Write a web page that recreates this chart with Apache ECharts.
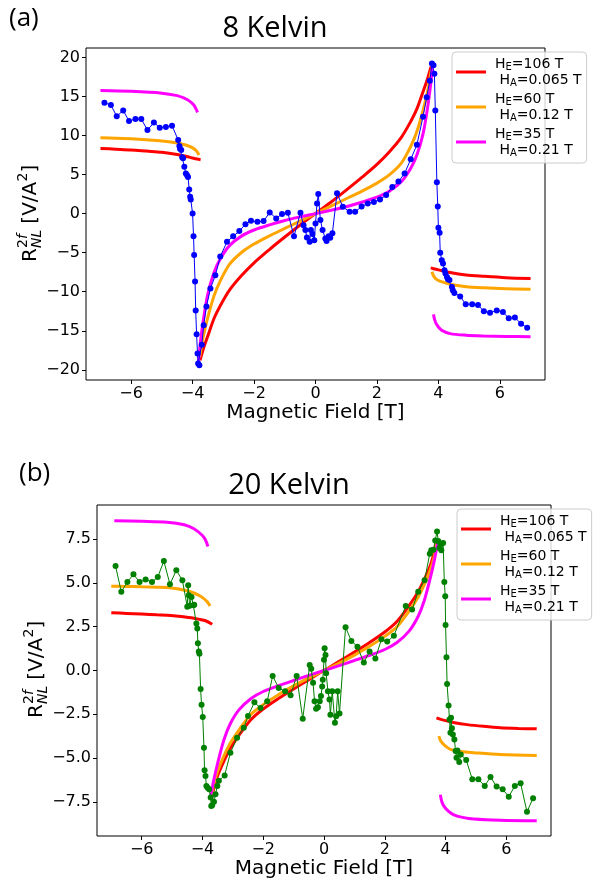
<!DOCTYPE html>
<html>
<head>
<meta charset="utf-8">
<script src="https://cdn.jsdelivr.net/npm/echarts@6/dist/echarts.min.js"></script>
<style>
  html, body { margin: 0; padding: 0; background: #fff; }
  #chart { width: 601px; height: 881px; }
</style>
</head>
<body>
<div id="chart"></div>
<script>
// ---- tick positions ----
const xTicks = [-6, -4, -2, 0, 2, 4, 6];
const yTicks8K = [-20, -15, -10, -5, 0, 5, 10, 15, 20];
const yTicks20K = [-7.5, -5, -2.5, 0, 2.5, 5, 7.5];

// ---- measured second-harmonic nonlocal signal, 8 K ----
const data8K = [
  [-6.87,14.2],[-6.66,13.9],[-6.47,12.46],[-6.26,13.2],[-6.07,11.86],[-5.86,12.1],[-5.67,12.1],
  [-5.47,10.7],[-5.26,11.65],[-5.07,11.0],[-4.87,11.1],[-4.67,11.26],[-4.47,9.42],[-4.43,8.65],
  [-4.41,8.3],[-4.37,8.14],[-4.34,7.2],[-4.31,7.1],[-4.27,6.0],[-4.22,5.15],[-4.18,4.9],[-4.15,4.7],
  [-4.11,3.1],[-4.08,2.15],[-4.06,1.8],[-4.0,0.0],[-3.97,-2.9],[-3.95,-5.3],[-3.92,-8.7],[-3.9,-12.4],
  [-3.87,-15.45],[-3.84,-17.9],[-3.82,-19.2],[-3.78,-19.4],[-3.7,-16.8],[-3.64,-14.3],[-3.55,-11.9],
  [-3.42,-9.6],[-3.26,-7.9],[-3.1,-5.5],[-2.88,-3.6],[-2.68,-2.9],[-2.48,-2.24],[-2.28,-1.35],
  [-2.1,-0.92],[-1.89,-1.05],[-1.69,-0.96],[-1.49,0.15],[-1.28,-0.62],[-1.09,-0.06],[-0.9,0.1],
  [-0.7,-2.9],[-0.49,0.1],[-0.39,-1.5],[-0.33,-2.1],[-0.28,-3.05],[-0.19,-3.6],[-0.15,-2.1],
  [-0.1,-2.6],[-0.04,-3.4],[0.0,-1.26],[0.05,1.3],[0.09,2.5],[0.16,-0.83],[0.23,-2.1],[0.32,-3.2],
  [0.36,-3.5],[0.43,-2.9],[0.48,-3.1],[0.55,-2.5],[0.7,2.6],[0.89,0.87],[1.11,0.23],[1.29,0.23],
  [1.5,0.9],[1.7,1.3],[1.9,1.5],[2.1,1.8],[2.3,2.37],[2.5,3.4],[2.7,4.1],[2.9,5.15],[3.1,6.95],
  [3.3,8.8],[3.5,12.4],[3.62,14.9],[3.72,17.0],[3.79,19.2],[3.84,19.0],[3.87,17.9],[3.9,13.2],
  [3.95,4.0],[3.98,0.9],[4.0,-1.8],[4.04,-2.45],[4.06,-5.0],[4.11,-5.97],[4.15,-6.4],[4.2,-7.25],
  [4.23,-7.67],[4.28,-8.1],[4.31,-8.4],[4.36,-8.5],[4.44,-9.4],[4.47,-9.8],[4.52,-10.15],[4.71,-10.6],
  [4.89,-11.6],[5.1,-11.6],[5.29,-11.7],[5.48,-12.5],[5.68,-12.7],[5.9,-12.4],[6.1,-12.6],
  [6.29,-13.4],[6.49,-13.3],[6.69,-14.1],[6.89,-14.6]
];

// ---- model curves, 8 K (below spin-flop, canted region, above spin-flop) ----
const redLow8K = [[-7.0,8.35],[-6.5,8.25],[-6.0,8.15],[-5.5,8.0],[-5.0,7.85],[-4.5,7.57],[-4.2,7.32],[-4.0,7.12],[-3.85,6.98],[-3.74,6.9]];
const redMid8K = [[-3.76,-18.8],[-3.65,-17.3],[-3.5,-15.6],[-3.3,-13.4],[-3.1,-11.8],[-2.8,-9.8],[-2.4,-7.9],[-2.0,-6.3],[-1.5,-4.6],[-1.0,-3.0],[-0.5,-1.45],[0.0,0.0],[0.5,1.45],[1.0,3.0],[1.5,4.6],[2.0,6.3],[2.4,7.9],[2.8,9.8],[3.1,11.8],[3.3,13.4],[3.5,15.6],[3.65,17.3],[3.76,18.8]];
const redHigh8K = [[3.75,-6.95],[3.85,-7.05],[4.0,-7.2],[4.38,-7.54],[4.9,-7.85],[5.47,-8.02],[6.2,-8.2],[7.0,-8.31]];

const orangeLow8K = [[-7.0,9.72],[-6.5,9.65],[-6.0,9.57],[-5.5,9.45],[-5.0,9.3],[-4.5,9.05],[-4.2,8.75],[-4.0,8.42],[-3.88,8.05],[-3.79,7.5]];
const orangeMid8K = [[-3.77,-18.4],[-3.65,-15.7],[-3.5,-13.2],[-3.3,-10.5],[-3.1,-8.6],[-2.8,-6.5],[-2.4,-4.95],[-2.0,-3.9],[-1.5,-2.85],[-1.0,-1.9],[-0.5,-0.95],[0.0,0.0],[0.5,0.95],[1.0,1.9],[1.5,2.85],[2.0,3.9],[2.4,4.95],[2.8,6.5],[3.1,8.6],[3.3,10.5],[3.5,13.2],[3.65,15.7],[3.77,18.4]];
const orangeHigh8K = [[3.79,-7.45],[3.84,-7.95],[3.92,-8.35],[4.05,-8.65],[4.38,-9.04],[4.9,-9.35],[5.47,-9.5],[6.2,-9.62],[7.0,-9.68]];

const magentaLow8K = [[-7.0,15.75],[-6.0,15.65],[-5.0,15.42],[-4.5,15.1],[-4.29,14.8],[-4.1,14.4],[-3.96,13.9],[-3.89,13.4],[-3.84,12.97]];
const magentaMid8K = [[-3.81,-19.0],[-3.75,-16.6],[-3.65,-13.6],[-3.5,-10.2],[-3.3,-7.5],[-3.1,-5.8],[-2.8,-4.1],[-2.4,-2.85],[-2.0,-2.1],[-1.5,-1.45],[-1.0,-0.88],[-0.5,-0.42],[0.0,0.0],[0.5,0.42],[1.0,0.88],[1.5,1.45],[2.0,2.1],[2.4,2.85],[2.8,4.1],[3.1,5.8],[3.3,7.5],[3.5,10.2],[3.65,13.6],[3.75,16.6],[3.81,19.0]];
const magentaHigh8K = [[3.84,-12.9],[3.88,-13.6],[3.93,-14.1],[4.02,-14.6],[4.11,-14.94],[4.38,-15.36],[4.9,-15.57],[5.47,-15.66],[6.2,-15.72],[7.0,-15.75]];

// ---- measured second-harmonic nonlocal signal, 20 K ----
const data20K = [
  [-6.86,5.97],[-6.67,4.49],[-6.47,5.06],[-6.27,5.49],[-6.07,5.06],[-5.87,5.19],[-5.66,5.06],
  [-5.47,5.34],[-5.27,6.25],[-5.07,4.93],[-4.86,5.72],[-4.66,5.15],[-4.5,3.64],[-4.47,4.87],
  [-4.45,4.3],[-4.42,3.7],[-4.36,4.2],[-4.3,3.73],[-4.27,3.75],[-4.2,2.69],[-4.17,2.4],[-4.15,1.56],
  [-4.12,1.08],[-4.1,0.95],[-4.06,-1.06],[-4.03,-1.95],[-3.99,-2.65],[-3.95,-4.41],[-3.93,-5.7],
  [-3.9,-6.02],[-3.87,-6.59],[-3.83,-6.7],[-3.78,-6.78],[-3.73,-7.25],[-3.71,-7.73],[-3.68,-7.7],
  [-3.62,-7.5],[-3.57,-7.06],[-3.51,-6.6],[-3.46,-6.3],[-3.27,-5.99],[-3.08,-4.7],[-2.86,-3.84],
  [-2.64,-3.27],[-2.5,-2.6],[-2.29,-1.82],[-2.09,-2.14],[-1.87,-1.76],[-1.69,-0.32],[-1.49,-1.0],
  [-1.28,-1.19],[-1.1,-1.41],[-0.9,-0.32],[-0.7,-2.75],[-0.47,0.32],[-0.42,0.1],[-0.36,-0.7],
  [-0.31,-1.76],[-0.26,-2.19],[-0.2,-2.1],[-0.14,-1.76],[-0.1,-1.45],[-0.06,-0.91],[-0.04,-0.53],
  [0.0,0.61],[0.02,1.27],[0.05,0.89],[0.07,-0.15],[0.13,-1.19],[0.18,-1.66],[0.21,-2.52],
  [0.27,-1.19],[0.36,-2.99],[0.4,-2.61],[0.45,-1.19],[0.51,-2.46],[0.71,2.47],[0.9,1.69],
  [1.1,1.36],[1.31,0.45],[1.5,1.08],[1.69,0.68],[1.89,1.78],[2.08,1.65],[2.3,1.99],[2.69,3.68],
  [2.9,3.49],[3.1,4.49],[3.31,5.15],[3.48,6.67],[3.53,6.86],[3.6,6.9],[3.66,7.43],[3.72,7.94],
  [3.76,7.4],[3.8,7.0],[3.83,7.24],[3.86,6.86],[3.92,7.28],[3.96,5.06],[3.99,4.24],[4.0,2.6],
  [4.03,0.76],[4.05,-0.77],[4.1,-2.0],[4.13,-2.8],[4.16,-3.56],[4.18,-2.7],[4.21,-3.3],[4.24,-3.65],
  [4.29,-3.94],[4.33,-4.6],[4.36,-4.98],[4.39,-4.57],[4.45,-5.23],[4.5,-4.79],[4.68,-5.11],
  [4.88,-6.21],[5.08,-6.21],[5.29,-6.59],[5.48,-6.08],[5.68,-6.63],[5.88,-6.78],[6.08,-7.21],
  [6.28,-6.59],[6.47,-6.44],[6.68,-8.07],[6.88,-7.29]
];

// ---- model curves, 20 K ----
const redLow20K = [[-7.0,3.3],[-6.5,3.26],[-6.0,3.22],[-5.5,3.18],[-5.16,3.16],[-4.7,3.08],[-4.28,2.98],[-3.9,2.84],[-3.68,2.64]];
const redMid20K = [[-3.7,-7.3],[-3.62,-6.7],[-3.5,-6.0],[-3.3,-5.2],[-3.1,-4.5],[-2.8,-3.7],[-2.4,-2.8],[-2.0,-2.2],[-1.5,-1.6],[-1.0,-1.05],[-0.5,-0.52],[0.0,0.0],[0.5,0.52],[1.0,1.05],[1.5,1.6],[2.0,2.2],[2.4,2.8],[2.8,3.7],[3.1,4.5],[3.3,5.2],[3.5,6.0],[3.62,6.7],[3.7,7.3]];
const redHigh20K = [[3.7,-2.7],[3.9,-2.82],[4.3,-2.98],[4.71,-3.09],[5.25,-3.19],[5.8,-3.27],[6.4,-3.31],[7.0,-3.33]];

const orangeLow20K = [[-7.0,4.81],[-6.5,4.8],[-6.0,4.78],[-5.5,4.76],[-5.16,4.74],[-4.5,4.55],[-4.06,4.24],[-3.84,3.92],[-3.75,3.68]];
const orangeMid20K = [[-3.72,-7.3],[-3.63,-6.5],[-3.5,-5.75],[-3.3,-4.9],[-3.1,-4.2],[-2.8,-3.4],[-2.4,-2.5],[-2.0,-1.95],[-1.5,-1.38],[-1.0,-0.88],[-0.5,-0.42],[0.0,0.0],[0.5,0.42],[1.0,0.88],[1.5,1.38],[2.0,1.95],[2.4,2.5],[2.8,3.4],[3.1,4.2],[3.3,4.9],[3.5,5.75],[3.63,6.5],[3.72,7.3]];
const orangeHigh20K = [[3.78,-3.75],[3.85,-4.05],[4.0,-4.32],[4.16,-4.5],[4.5,-4.62],[4.93,-4.69],[5.8,-4.8],[7.0,-4.85]];

const magentaLow20K = [[-6.9,8.55],[-6.0,8.52],[-5.16,8.47],[-4.6,8.32],[-4.28,8.09],[-4.0,7.71],[-3.9,7.45],[-3.82,7.08]];
const magentaMid20K = [[-3.74,-7.3],[-3.62,-6.2],[-3.5,-5.3],[-3.3,-4.0],[-3.1,-3.1],[-2.8,-2.25],[-2.4,-1.6],[-2.0,-1.2],[-1.5,-0.87],[-1.0,-0.57],[-0.5,-0.28],[0.0,0.0],[0.5,0.28],[1.0,0.57],[1.5,0.87],[2.0,1.2],[2.4,1.6],[2.8,2.25],[3.1,3.1],[3.3,4.0],[3.5,5.3],[3.62,6.2],[3.74,7.3]];
const magentaHigh20K = [[3.83,-7.1],[3.87,-7.45],[3.94,-7.73],[4.1,-8.05],[4.27,-8.24],[4.6,-8.4],[4.93,-8.48],[5.8,-8.55],[7.0,-8.58]];

// ---- legend entries ----
const fitNames = ['fitHE106', 'fitHE60', 'fitHE35'];
const fitLabels = {
  fitHE106: ['H', 'E', '=106 T', ' H', 'A', '=0.065 T'],
  fitHE60:  ['H', 'E', '=60 T',  ' H', 'A', '=0.12 T'],
  fitHE35:  ['H', 'E', '=35 T',  ' H', 'A', '=0.21 T']
};
const fitColors = { fitHE106: '#ff0000', fitHE60: '#ffa500', fitHE35: '#ff00ff' };

const FONT = '"DejaVu Sans", sans-serif';
const minus = v => String(v).replace('-', '\u2212');

function fitSeries(name, data, idx) {
  return {
    type: 'line', name, data, xAxisIndex: idx, yAxisIndex: idx,
    symbol: 'none', smooth: 0.3,
    lineStyle: { color: fitColors[name], width: 3 },
    itemStyle: { color: fitColors[name] },
    z: 2, animation: false, silent: true
  };
}
function dataSeries(name, data, idx, color) {
  return {
    type: 'line', name, data, xAxisIndex: idx, yAxisIndex: idx,
    symbol: 'circle', symbolSize: 6, showAllSymbol: true,
    lineStyle: { color, width: 1 }, itemStyle: { color },
    z: 3, animation: false, silent: true
  };
}

function xAxisCfg(gridIndex) {
  return {
    type: 'value', gridIndex, min: -7.47, max: 7.47,
    name: 'Magnetic Field [T]', nameLocation: 'middle', nameGap: 23,
    nameTextStyle: { fontFamily: FONT, fontSize: 20, color: '#000' },
    axisLine: { show: false, onZero: false },
    axisTick: { show: true, inside: false, length: 4, customValues: xTicks, lineStyle: { color: '#000', width: 1 } },
    axisLabel: { customValues: xTicks, fontFamily: FONT, fontSize: 16, color: '#000', margin: 6, formatter: minus },
    splitLine: { show: false }
  };
}
function yAxisCfg(gridIndex, min, max, ticks, fmt) {
  return {
    type: 'value', gridIndex, min, max,
    axisLine: { show: false, onZero: false },
    axisTick: { show: true, inside: false, length: 4, customValues: ticks, lineStyle: { color: '#000', width: 1 } },
    axisLabel: { customValues: ticks, fontFamily: FONT, fontSize: 16, color: '#000', margin: 6, formatter: fmt },
    splitLine: { show: false }
  };
}

function legendCfg(left, top) {
  return {
    data: fitNames, left, top, orient: 'vertical',
    icon: 'rect', itemWidth: 30, itemHeight: 3, itemGap: 4,
    padding: [5, 5, 5, 4], selectedMode: false,
    borderColor: '#cccccc', borderWidth: 1, borderRadius: 4,
    backgroundColor: 'rgba(255,255,255,0.8)',
    formatter: name => {
      const p = fitLabels[name];
      return '{n|' + p[0] + '}{s|' + p[1] + '}{n|' + p[2] + '}\n{n|' + p[3] + '}{s|' + p[4] + '}{n|' + p[5] + '}';
    },
    textStyle: {
      padding: [0, 0, 0, 4],
      rich: {
        n: { fontFamily: FONT, fontSize: 14, lineHeight: 16, color: '#000' },
        s: { fontFamily: FONT, fontSize: 10, lineHeight: 6, verticalAlign: 'bottom', color: '#000' }
      }
    }
  };
}

// Rotated y-axis title: R with stacked 2f / NL scripts, then [V/A²]
function yTitle(x, cy) {
  const s = -48;
  const big = '20px ' + FONT;
  const small = '14px ' + FONT;
  const t = (text, dx, dy, font, italic) => ({
    type: 'text', x: s + dx, y: dy,
    style: { text, font: (italic ? 'italic ' : '') + font, fill: '#000', textAlign: 'left', textVerticalAlign: 'middle' }
  });
  return {
    type: 'group', x, y: cy, rotation: Math.PI / 2,
    children: [
      t('R', 0, 0, big),
      t('2', 14, -8, small),
      t('f', 23, -8, small, true),
      t('NL', 14, 6, small, true),
      t(' [V/A', 32, 0, big),
      t('2', 80.5, -8, small),
      t(']', 89.5, 0, big)
    ]
  };
}

const chart = echarts.init(document.getElementById('chart'), null, { renderer: 'canvas' });

const option = {
  animation: false,
  backgroundColor: '#ffffff',
  grid: [
    { left: 86, top: 48, width: 459, height: 332, show: true, borderColor: '#000', borderWidth: 1, backgroundColor: 'transparent' },
    { left: 97, top: 505, width: 454, height: 331, show: true, borderColor: '#000', borderWidth: 1, backgroundColor: 'transparent' }
  ],
  xAxis: [xAxisCfg(0), xAxisCfg(1)],
  yAxis: [
    yAxisCfg(0, -21.3, 21.2, yTicks8K, v => minus(v)),
    yAxisCfg(1, -9.45, 9.45, yTicks20K, v => minus(Number(v).toFixed(1)))
  ],
  legend: [legendCfg(452, 52), legendCfg(457, 509)],
  graphic: [
    { type: 'text', x: 9, y: 19, style: { text: '(a)', font: '26px "Open Sans"', fill: '#000', textVerticalAlign: 'middle' } },
    { type: 'text', x: 275, y: 29, style: { text: '8 Kelvin', font: '29px "Open Sans"', fill: '#000', textAlign: 'center', textVerticalAlign: 'middle' } },
    { type: 'text', x: 19, y: 474, style: { text: '(b)', font: '26px "Open Sans"', fill: '#000', textVerticalAlign: 'middle' } },
    { type: 'text', x: 289, y: 486, style: { text: '20 Kelvin', font: '29px "Open Sans"', fill: '#000', textAlign: 'center', textVerticalAlign: 'middle' } },
    yTitle(31, 214),
    yTitle(37, 670)
  ],
  series: [
    fitSeries('fitHE106', redLow8K, 0), fitSeries('fitHE106', redMid8K, 0), fitSeries('fitHE106', redHigh8K, 0),
    fitSeries('fitHE60', orangeLow8K, 0), fitSeries('fitHE60', orangeMid8K, 0), fitSeries('fitHE60', orangeHigh8K, 0),
    fitSeries('fitHE35', magentaLow8K, 0), fitSeries('fitHE35', magentaMid8K, 0), fitSeries('fitHE35', magentaHigh8K, 0),
    dataSeries('meas8K', data8K, 0, '#0000ff'),
    fitSeries('fitHE106', redLow20K, 1), fitSeries('fitHE106', redMid20K, 1), fitSeries('fitHE106', redHigh20K, 1),
    fitSeries('fitHE60', orangeLow20K, 1), fitSeries('fitHE60', orangeMid20K, 1), fitSeries('fitHE60', orangeHigh20K, 1),
    fitSeries('fitHE35', magentaLow20K, 1), fitSeries('fitHE35', magentaMid20K, 1), fitSeries('fitHE35', magentaHigh20K, 1),
    dataSeries('meas20K', data20K, 1, '#008000')
  ]
};
chart.setOption(option);
</script>
</body>
</html>
